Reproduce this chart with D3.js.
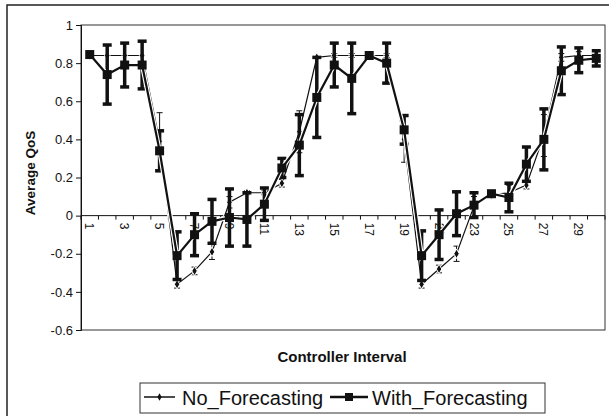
<!DOCTYPE html>
<html>
<head>
<meta charset="utf-8">
<script src="https://cdn.jsdelivr.net/npm/d3@7"></script>
<style>
  body { margin: 0; background: #fff; }
  svg { font-family: "Liberation Sans", Arial, sans-serif; }
</style>
</head>
<body>
<div id="chart"></div>
<script>
// data
var intervals = d3.range(1, 31);
var noForecast = [0.84, 0.84, 0.84, 0.84, 0.39, -0.36, -0.29, -0.19, 0.07, 0.12,
  0.12, 0.17, 0.44, 0.83, 0.84, 0.84, 0.84, 0.84, 0.40, -0.36,
  -0.28, -0.20, 0.05, 0.11, 0.12, 0.16, 0.42, 0.83, 0.84, 0.84];
var noErr = [0, 0, 0, 0, 0.15, 0.02, 0.02, 0.04, 0.03, 0.01,
  0.01, 0.02, 0.11, 0, 0.01, 0.01, 0.01, 0.01, 0.12, 0.02,
  0.02, 0.04, 0.05, 0, 0.04, 0.02, 0.11, 0.02, 0.02, 0.02];
var withForecast = [0.845, 0.74, 0.79, 0.79, 0.34, -0.21, -0.10, -0.03, -0.01, -0.02,
  0.06, 0.25, 0.37, 0.62, 0.79, 0.72, 0.84, 0.80, 0.45, -0.21,
  -0.10, 0.01, 0.055, 0.115, 0.095, 0.27, 0.40, 0.76, 0.815, 0.825];
var withErr = [0, 0.155, 0.115, 0.125, 0.105, 0.125, 0.11, 0.115, 0.15, 0.14,
  0.085, 0.05, 0.16, 0.21, 0.115, 0.185, 0, 0.105, 0.075, 0.13,
  0.13, 0.115, 0.065, 0, 0.075, 0.09, 0.16, 0.125, 0.065, 0.04];
var yTicks = [-0.6, -0.4, -0.2, 0, 0.2, 0.4, 0.6, 0.8, 1];
var yTickLabels = ["-0.6", "-0.4", "-0.2", "0", "0.2", "0.4", "0.6", "0.8", "1"];
var xLabels = intervals.filter(function(d) { return d % 2 == 1; });

var w = 609, h = 416,
  pLeft = 81, pRight = 605, pTop = 25, pBottom = 330,
  ink = "#111";

var x = d3.scaleBand().domain(intervals).range([pLeft, pRight]).padding(0);
var y = d3.scaleLinear().domain([-0.6, 1]).range([pBottom, pTop]);
var cx = function(d) { return x(d) + x.bandwidth() / 2; };

var svg = d3.select("#chart").append("svg")
  .attr("width", w)
  .attr("height", h);

// outer chart frame (runs off the right / bottom of the picture)
svg.append("rect")
  .attr("x", 7).attr("y", 5)
  .attr("width", w + 20).attr("height", h + 20)
  .attr("fill", "none").attr("stroke", "#222").attr("stroke-width", 1.5);

// plot area frame
svg.append("rect")
  .attr("x", pLeft).attr("y", pTop)
  .attr("width", pRight - pLeft).attr("height", pBottom - pTop)
  .attr("fill", "none").attr("stroke", "#333").attr("stroke-width", 1);

// y axis
var yAxis = d3.axisLeft(y).tickValues(yTicks).tickSize(5).tickPadding(3)
  .tickFormat(function(d, i) { return yTickLabels[i]; });
var gy = svg.append("g").attr("transform", "translate(" + pLeft + ",0)").call(yAxis);
gy.selectAll("text").attr("font-size", 13).attr("fill", ink);
gy.selectAll("line").attr("stroke", ink);
gy.select(".domain").attr("stroke", ink);

// x axis crossing at zero
var gx = svg.append("g").attr("transform", "translate(0," + y(0) + ")");
gx.append("line").attr("x1", pLeft).attr("x2", pRight).attr("stroke", ink);
gx.selectAll("line.tick").data(intervals.concat([null])).enter().append("line")
  .attr("class", "tick")
  .attr("x1", function(d) { return d == null ? pRight : x(d); })
  .attr("x2", function(d) { return d == null ? pRight : x(d); })
  .attr("y1", 0).attr("y2", 4)
  .attr("stroke", ink);
gx.selectAll("text").data(xLabels).enter().append("text")
  .attr("transform", function(d) { return "translate(" + (cx(d) - 4.5) + ",7) rotate(90)"; })
  .attr("font-size", 12)
  .attr("fill", ink)
  .text(function(d) { return d; });

// axis titles
svg.append("text")
  .attr("transform", "translate(35,173) rotate(-90)")
  .attr("text-anchor", "middle")
  .attr("font-size", 13.5).attr("font-weight", "bold").attr("fill", ink)
  .text("Average QoS");
svg.append("text")
  .attr("x", 342).attr("y", 362)
  .attr("text-anchor", "middle")
  .attr("font-size", 15).attr("font-weight", "bold").attr("fill", ink)
  .text("Controller Interval");

var seriesLine = d3.line().x(function(d, i) { return cx(intervals[i]); }).y(function(d) { return y(d); });

function errorBars(values, errs, width, cap) {
  var g = svg.append("g");
  var idx = intervals.map(function(d, i) { return i; }).filter(function(i) { return errs[i] > 0; });
  g.selectAll("line.v").data(idx).enter().append("line")
    .attr("x1", function(i) { return cx(intervals[i]); })
    .attr("x2", function(i) { return cx(intervals[i]); })
    .attr("y1", function(i) { return y(values[i] + errs[i]); })
    .attr("y2", function(i) { return y(values[i] - errs[i]); })
    .attr("stroke", ink).attr("stroke-width", width);
  [1, -1].forEach(function(s) {
    g.selectAll("line.c" + (s > 0 ? "up" : "dn")).data(idx).enter().append("line")
      .attr("x1", function(i) { return cx(intervals[i]) - cap; })
      .attr("x2", function(i) { return cx(intervals[i]) + cap; })
      .attr("y1", function(i) { return y(values[i] + s * errs[i]); })
      .attr("y2", function(i) { return y(values[i] + s * errs[i]); })
      .attr("stroke", ink).attr("stroke-width", width);
  });
}

// No_Forecasting: thin line, small diamonds
errorBars(noForecast, noErr, 1, 3);
svg.append("path").attr("d", seriesLine(noForecast))
  .attr("fill", "none").attr("stroke", "#fff").attr("stroke-width", 3);
svg.append("path").attr("d", seriesLine(noForecast))
  .attr("fill", "none").attr("stroke", ink).attr("stroke-width", 1.2);
svg.append("g").selectAll("path").data(noForecast).enter().append("path")
  .attr("transform", function(d, i) { return "translate(" + cx(intervals[i]) + "," + y(d) + ")"; })
  .attr("d", d3.symbol().type(d3.symbolDiamond).size(26))
  .attr("fill", ink).attr("stroke", "#fff").attr("stroke-width", 1);

// With_Forecasting: thick line, squares, heavy error bars
errorBars(withForecast, withErr, 3.5, 4.5);
svg.append("path").attr("d", seriesLine(withForecast))
  .attr("fill", "none").attr("stroke", "#fff").attr("stroke-width", 4.5);
svg.append("path").attr("d", seriesLine(withForecast))
  .attr("fill", "none").attr("stroke", ink).attr("stroke-width", 2.2);
svg.append("g").selectAll("rect").data(withForecast).enter().append("rect")
  .attr("x", function(d, i) { return cx(intervals[i]) - 4.5; })
  .attr("y", function(d) { return y(d) - 4.5; })
  .attr("width", 9).attr("height", 9)
  .attr("fill", ink);

// legend
var lg = svg.append("g").attr("transform", "translate(140,383)");
lg.append("rect").attr("width", 405).attr("height", 30)
  .attr("fill", "#fff").attr("stroke", "#333").attr("stroke-width", 1);
lg.append("line").attr("x1", 4).attr("x2", 35).attr("y1", 14).attr("y2", 14)
  .attr("stroke", ink).attr("stroke-width", 1.5);
lg.append("path").attr("transform", "translate(19.5,14)")
  .attr("d", d3.symbol().type(d3.symbolDiamond).size(16)).attr("fill", ink);
lg.append("text").attr("x", 42).attr("y", 22).attr("font-size", 20).attr("fill", ink)
  .text("No_Forecasting");
lg.append("line").attr("x1", 190).attr("x2", 228).attr("y1", 14).attr("y2", 14)
  .attr("stroke", ink).attr("stroke-width", 2.5);
lg.append("rect").attr("x", 205).attr("y", 10).attr("width", 8).attr("height", 8).attr("fill", ink);
lg.append("text").attr("x", 232).attr("y", 22).attr("font-size", 20).attr("fill", ink)
  .text("With_Forecasting");
</script>
</body>
</html>
